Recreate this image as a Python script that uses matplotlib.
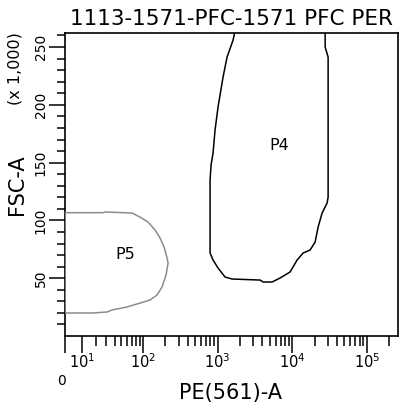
import matplotlib
matplotlib.use("Agg")
import matplotlib.pyplot as plt

# ---- data ----
title = "1113-1571-PFC-1571 PFC PER"
x_label = "PE(561)-A"
y_label = "FSC-A"
y_unit = "(x 1,000)"

x_major = [0, 10, 100, 1000, 10000, 100000]
x_major_labels = ["", r"$10^{1}$", r"$10^{2}$", r"$10^{3}$", r"$10^{4}$", r"$10^{5}$"]
x_minor = [m * 10 ** k for k in range(1, 6) for m in range(2, 10) if m * 10 ** k <= 262144]
y_major = [50, 100, 150, 200, 250]
y_minor = list(range(10, 261, 10))

# P4 gate (PE-A, FSC-A in thousands)
p4_x = [1868, 1616, 1343, 1187, 1017, 927, 872, 820, 795, 795, 872, 1017, 1263, 1567,
        3727, 4087, 5394, 6905, 9394, 11653, 14038, 17425, 20326, 22299, 25231,
        29431, 30354, 30354, 27693, 27693]
p4_y = [275, 256, 241.3, 224.0, 198.1, 178.2, 158.3, 148.0, 135.0, 71.8, 65.7, 58.8, 51.0, 49.3,
        48.4, 46.7, 46.7, 50.2, 55.4, 65.7, 71.8, 74.4, 81.3, 94.3, 106.4,
        115.1, 120.2, 241.3, 250.0, 275]
# P5 gate
p5_x = [0, 26.4, 28.6, 70.4, 90.7, 116.6, 145.2, 169.4, 191.9, 210.5, 217.2, 204,
        180.3, 154.4, 124, 90.7, 59.9, 36.4, 30.8, 17.6, 0, 0]
p5_y = [106.7, 106.7, 107.3, 106.4, 102.9, 98.6, 91.7, 84.8, 77.0, 67.5, 63.1, 52.8,
        42.4, 35.5, 31.1, 28.5, 25.1, 22.5, 20.8, 19.9, 19.9, 106.7]
gate_names = ["P4", "P5"]
gate_label_x = [6690, 56]
gate_label_y = [164.4, 70.9]

# ---- figure ----
W, H = 409, 403
fig = plt.figure(figsize=(W / 100, H / 100), dpi=100)
L, R, T, B = 65, 398, 33, 336
ax = fig.add_axes([L / W, 1 - B / H, (R - L) / W, (B - T) / H])

ax.set_xscale("asinh", linear_width=18.1)
ax.set_xlim(0, 262144)
ax.set_ylim(0, 262.144)

ax.plot(p4_x, p4_y, color="black", lw=1.1, zorder=3)
ax.plot(p5_x, p5_y, color="#8c8c8c", lw=1.1, zorder=3)
for name, gx, gy in zip(gate_names, gate_label_x, gate_label_y):
    ax.text(gx, gy, name, ha="center", va="center", fontsize=11.5, color="black")

ax.set_xticks(x_major)
ax.set_xticklabels(x_major_labels)
ax.set_xticks(x_minor, minor=True)
ax.set_xticklabels([], minor=True)
ax.set_yticks(y_major)
ax.set_yticklabels([str(v) for v in y_major], rotation=90, va="center")
ax.set_yticks(y_minor, minor=True)

ax.tick_params(axis="x", which="major", direction="out", length=12, width=1.1,
               labelsize=10.5, pad=0)
ax.tick_params(axis="x", which="minor", direction="out", length=7.5, width=1.1)
ax.tick_params(axis="y", which="major", direction="out", length=11.5, width=1.1,
               labelsize=10, pad=1)
ax.tick_params(axis="y", which="minor", direction="out", length=5.8, width=1.1)
for s in ax.spines.values():
    s.set_linewidth(1.2)
    s.set_color("black")

fig.text(61.5 / W, 1 - 381 / H, "0", ha="center", va="center", fontsize=10)
fig.text(231 / W, 1 - 19 / H, title, ha="center", va="center", fontsize=15.5)
fig.text(230 / W, 1 - 393 / H, x_label, ha="center", va="center", fontsize=15)
fig.text(17 / W, 1 - 185 / H, y_label, ha="center", va="center", fontsize=15, rotation=90)
fig.text(15 / W, 1 - 69 / H, y_unit, ha="center", va="center", fontsize=11.5, rotation=90)

fig.savefig("out.png", dpi=100)
